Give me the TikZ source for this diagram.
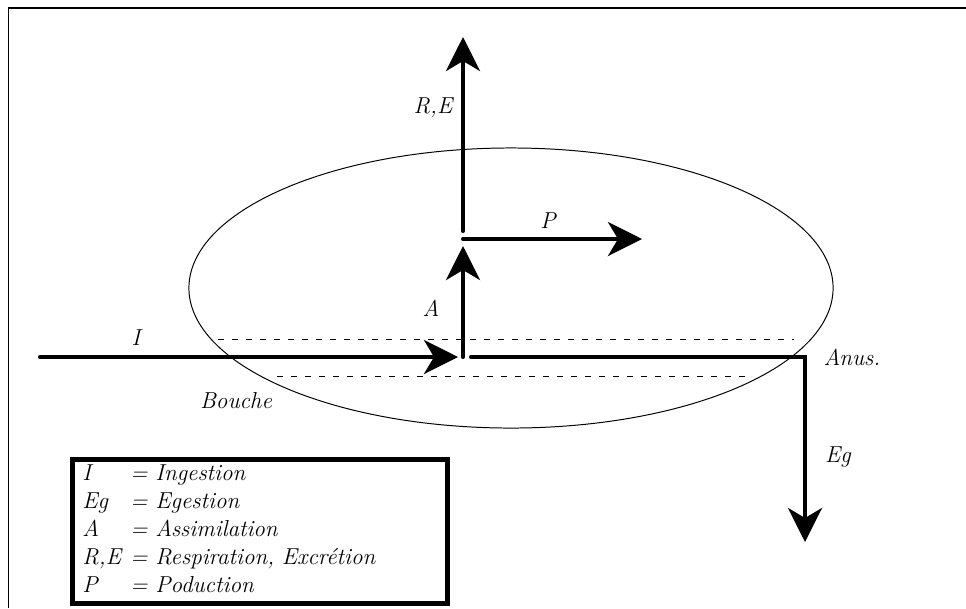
\documentclass[tikz,border=0pt]{standalone}
\usetikzlibrary{arrows.meta}
\tikzset{
  flux/.style={line width=2.9pt, line cap=round,
    -{Stealth[length=0.85cm, width=0.85cm, inset=0.25cm]}},
  tube/.style={line width=0.6pt, dash pattern=on 0.15cm off 0.2cm},
  lbl/.style={font=\fontsize{16.4}{19.9}\selectfont\itshape, inner sep=0pt},
  legende/.style={draw, line width=3.4pt, anchor=north west,
    font=\fontsize{16.4}{19.9}\selectfont\itshape,
    inner xsep=0.25cm, inner ysep=0.05cm, text width=8.875cm,
    minimum height=3.5cm, align=left},
}
\begin{document}
\begin{tikzpicture}[x=0.025cm, y=-0.025cm]
  \useasboundingbox (0,0) rectangle (966,608);

  % cadre
  \draw[line width=0.7pt] (8,608) -- (8,8);
  \draw[line width=1.5pt] (8,8) -- (966,8);

  % organisme
  \draw[line width=0.7pt] (511,288) ellipse [x radius=8.05cm, y radius=3.5cm];

  % tube digestif
  \draw[tube] (218,339) -- (794,339);
  \draw[tube] (277,376) -- (749,376);

  % points des flux
  \coordinate (entree) at (40,357);
  \coordinate (bouche) at (458,357);
  \coordinate (abase) at (463,357);
  \coordinate (atip) at (463,246);
  \coordinate (rebase) at (463,231);
  \coordinate (retip) at (463,37);
  \coordinate (pbase) at (463,239);
  \coordinate (ptip) at (642,239);
  \coordinate (egbase) at (471,357);
  \coordinate (anus) at (805,357);
  \coordinate (egtip) at (805,542);

  % flux d'energie
  \draw[flux] (entree) -- (bouche);
  \draw[flux] (abase) -- (atip);
  \draw[flux] (rebase) -- (retip);
  \draw[flux] (pbase) -- (ptip);
  \draw[flux] (egbase) -- (anus) -- (egtip);

  % etiquettes
  \node[lbl] (lblI) at (136,338) {I};
  \node[lbl] (lblA) at (431,308) {A};
  \node[lbl] (lblRE) at (433,108) {R,E};
  \node[lbl] (lblP) at (548,221) {P};
  \node[lbl] (lblBouche) at (236,401) {Bouche};
  \node[lbl] (lblAnus) at (852,357) {Anus.};
  \node[lbl] (lblEg) at (838,457) {Eg};

  % legende
  \node[legende] (legend) at (70,457) {%
    \begin{tabular}{@{}p{1.2cm}@{}l@{}}
      I   & = Ingestion\\
      Eg  & = Egestion\\
      A   & = Assimilation\\
      R,E & = Respiration, Excrétion\\
      P   & = Poduction
    \end{tabular}};
\end{tikzpicture}
\end{document}
